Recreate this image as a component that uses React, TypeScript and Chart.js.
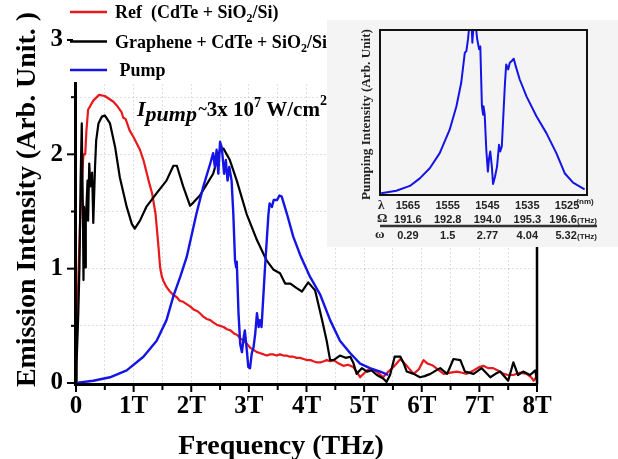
import React, { useEffect, useRef } from "react";
import { Chart, registerables } from "chart.js";

Chart.register(...registerables);

// ---------- data ----------
const refX = [0, 0.02, 0.04, 0.07, 0.1, 0.13, 0.16, 0.18, 0.21, 0.3, 0.4, 0.5, 0.65, 0.72, 0.79, 0.82, 0.86, 0.93, 1.0, 1.11, 1.17, 1.26, 1.32, 1.38, 1.43, 1.46, 1.49, 1.52, 1.57, 1.63, 1.69, 1.75, 1.8, 1.86, 1.92, 1.98, 2.05, 2.1, 2.15, 2.21, 2.27, 2.33, 2.38, 2.44, 2.5, 2.56, 2.62, 2.68, 2.75, 2.8, 2.85, 2.91, 2.97, 3.02, 3.08, 3.14, 3.2, 3.26, 3.31, 3.37, 3.42, 3.48, 3.54, 3.6, 3.65, 3.71, 3.77, 3.83, 3.89, 3.95, 4.01, 4.07, 4.12, 4.18, 4.24, 4.3, 4.35, 4.41, 4.47, 4.56, 4.64, 4.72, 4.81, 4.87, 4.93, 5.05, 5.13, 5.22, 5.33, 5.42, 5.51, 5.63, 5.74, 5.86, 5.95, 6.03, 6.1, 6.2, 6.3, 6.38, 6.5, 6.61, 6.7, 6.78, 6.9, 7.0, 7.07, 7.15, 7.24, 7.32, 7.42, 7.5, 7.59, 7.7, 7.82, 7.9, 7.94, 8.0];
const refY = [0, 0.5, 0.9, 1.4, 1.77, 2.0, 2.0, 2.2, 2.39, 2.47, 2.52, 2.51, 2.46, 2.42, 2.37, 2.32, 2.31, 2.21, 2.15, 2.04, 1.95, 1.77, 1.66, 1.48, 1.2, 1.01, 0.93, 0.89, 0.84, 0.8, 0.77, 0.75, 0.72, 0.71, 0.69, 0.67, 0.64, 0.63, 0.61, 0.58, 0.56, 0.55, 0.53, 0.51, 0.5, 0.49, 0.47, 0.46, 0.43, 0.42, 0.39, 0.37, 0.34, 0.31, 0.29, 0.27, 0.26, 0.25, 0.24, 0.25, 0.25, 0.24, 0.25, 0.24, 0.24, 0.23, 0.23, 0.22, 0.22, 0.21, 0.2, 0.2, 0.19, 0.18, 0.18, 0.19, 0.2, 0.19, 0.2, 0.17, 0.15, 0.16, 0.14, 0.1, 0.05, 0.11, 0.12, 0.1, 0.05, 0.1, 0.14, 0.21, 0.15, 0.08, 0.12, 0.2, 0.17, 0.15, 0.11, 0.08, 0.09, 0.1, 0.09, 0.08, 0.11, 0.14, 0.15, 0.13, 0.13, 0.11, 0.08, 0.07, 0.07, 0.09, 0.08, 0.05, 0.02, 0.06];

const grX = [0, 0.01, 0.04, 0.06, 0.08, 0.1, 0.12, 0.13, 0.14, 0.16, 0.17, 0.2, 0.21, 0.23, 0.25, 0.28, 0.3, 0.33, 0.35, 0.39, 0.45, 0.5, 0.59, 0.68, 0.76, 0.88, 0.97, 1.02, 1.11, 1.22, 1.4, 1.57, 1.69, 1.75, 1.86, 1.98, 2.04, 2.15, 2.27, 2.38, 2.5, 2.56, 2.67, 2.79, 2.96, 3.14, 3.31, 3.43, 3.54, 3.63, 3.72, 3.83, 3.92, 4.03, 4.15, 4.27, 4.35, 4.41, 4.47, 4.58, 4.68, 4.76, 4.81, 4.87, 4.96, 5.05, 5.13, 5.22, 5.33, 5.39, 5.45, 5.53, 5.63, 5.68, 5.74, 5.86, 5.97, 6.05, 6.15, 6.25, 6.32, 6.44, 6.55, 6.67, 6.75, 6.9, 7.04, 7.19, 7.28, 7.36, 7.5, 7.59, 7.67, 7.76, 7.88, 7.97, 8.0];
const grY = [0, 0.17, 0.61, 1.01, 1.77, 2.27, 1.48, 0.9, 1.54, 1.01, 1.4, 1.77, 1.42, 1.92, 1.72, 1.84, 1.4, 1.89, 2.12, 2.27, 2.33, 2.34, 2.27, 2.06, 1.8, 1.54, 1.39, 1.35, 1.42, 1.54, 1.66, 1.77, 1.9, 1.9, 1.72, 1.55, 1.58, 1.64, 1.74, 1.83, 2.04, 2.05, 1.95, 1.77, 1.48, 1.25, 1.07, 0.99, 0.96, 0.87, 0.87, 0.83, 0.8, 0.88, 0.81, 0.55, 0.37, 0.2, 0.2, 0.24, 0.22, 0.23, 0.18, 0.08, 0.13, 0.1, 0.11, 0.07, 0.04, 0.01, 0.07, 0.23, 0.23, 0.18, 0.1, 0.08, 0.05, 0.06, 0.08, 0.11, 0.13, 0.08, 0.21, 0.2, 0.1, 0.08, 0.13, 0.05, 0.08, 0.1, 0.02, 0.18, 0.07, 0.1, 0.07, 0.11, 0.02];

const pumpX = [0, 0.3, 0.59, 0.88, 1.17, 1.4, 1.57, 1.69, 1.81, 1.92, 2.09, 2.21, 2.33, 2.38, 2.41, 2.44, 2.47, 2.5, 2.53, 2.57, 2.6, 2.63, 2.66, 2.7, 2.73, 2.76, 2.78, 2.79, 2.82, 2.85, 2.88, 2.91, 2.93, 2.96, 2.99, 3.02, 3.05, 3.08, 3.11, 3.14, 3.17, 3.19, 3.22, 3.28, 3.34, 3.36, 3.4, 3.43, 3.49, 3.53, 3.57, 3.66, 3.77, 3.89, 4.06, 4.24, 4.41, 4.58, 4.76, 4.93, 5.1, 5.28, 5.42];
const pumpY = [0, 0.02, 0.05, 0.11, 0.23, 0.37, 0.55, 0.76, 0.93, 1.1, 1.48, 1.72, 1.92, 2.01, 1.89, 2.04, 1.83, 2.11, 2.06, 1.83, 1.95, 1.77, 1.89, 1.77, 1.48, 1.07, 1.01, 1.06, 0.61, 0.34, 0.27, 0.4, 0.46, 0.31, 0.14, 0.13, 0.26, 0.31, 0.43, 0.61, 0.49, 0.55, 0.49, 1.01, 1.48, 1.57, 1.54, 1.6, 1.6, 1.64, 1.63, 1.48, 1.28, 1.12, 0.93, 0.77, 0.55, 0.37, 0.26, 0.17, 0.13, 0.1, 0.07];

const xTickValues = [0, 1, 2, 3, 4, 5, 6, 7, 8];
const yTickValues = [0, 1, 2, 3];

// inset (pump spectrum vs wavelength)
const insetLam = [1571.7, 1567.9, 1564.5, 1562.0, 1559.5, 1557.0, 1554.5, 1552.8, 1551.6, 1550.7, 1550.3, 1549.9, 1549.5, 1549.0, 1548.8, 1548.5, 1548.0, 1547.6, 1547.1, 1546.8, 1546.4, 1546.1, 1546.0, 1545.7, 1545.3, 1544.9, 1544.6, 1544.3, 1543.9, 1543.6, 1543.1, 1542.6, 1542.1, 1541.8, 1541.4, 1540.9, 1540.6, 1540.3, 1539.8, 1539.4, 1538.9, 1538.4, 1537.9, 1536.9, 1535.2, 1532.7, 1530.2, 1527.7, 1525.6, 1523.5, 1520.6];
const insetVal = [0.01, 0.026, 0.055, 0.101, 0.162, 0.254, 0.396, 0.538, 0.68, 0.862, 0.872, 0.943, 1.04, 1.04, 0.923, 1.03, 1.04, 0.947, 0.883, 0.9, 0.538, 0.487, 0.538, 0.487, 0.274, 0.142, 0.223, 0.264, 0.172, 0.067, 0.112, 0.172, 0.304, 0.264, 0.294, 0.538, 0.68, 0.791, 0.761, 0.801, 0.812, 0.826, 0.781, 0.7, 0.598, 0.477, 0.375, 0.254, 0.132, 0.075, 0.034];
const lambdaLabels = ["1565", "1555", "1545", "1535", "1525"];
const lambdaValues = [1565, 1555, 1545, 1535, 1525];
const omegaBig = ["191.6", "192.8", "194.0", "195.3", "196.6"];
const omegaSmall = ["0.29", "1.5", "2.77", "4.04", "5.32"];

const SERIF = '"Liberation Serif", "Times New Roman", serif';
const SANS = '"Liberation Sans", Arial, sans-serif';

const RED = "#e8181c";
const BLACK = "#000000";
const BLUE = "#1414e6";

const INSET_LEFT = 327;
const INSET_TOP = 20;

type Seg = [string, string, number];
function drawRich(ctx: CanvasRenderingContext2D, x: number, y: number, segs: Seg[]) {
  let cx = x;
  ctx.textAlign = "left";
  ctx.textBaseline = "alphabetic";
  for (const [t, f, dy] of segs) {
    ctx.font = f;
    ctx.fillText(t, cx, y + dy);
    cx += ctx.measureText(t).width;
  }
}

const legendItems: [string, number, number, Seg[]][] = [
  [RED, 12, 18, [["Ref  (CdTe + SiO", `bold 18px ${SERIF}`, 0], ["2", `bold 12px ${SERIF}`, 4], ["/Si)", `bold 18px ${SERIF}`, 0]]],
  [BLACK, 41.5, 47.5, [["Graphene + CdTe + SiO", `bold 18px ${SERIF}`, 0], ["2", `bold 12px ${SERIF}`, 4], ["/Si", `bold 18px ${SERIF}`, 0]]],
  [BLUE, 70, 75.5, [[" Pump", `bold 18px ${SERIF}`, 0]]],
];

function drawLegendText(ctx: CanvasRenderingContext2D) {
  ctx.fillStyle = "#000";
  for (const [, , ty, segs] of legendItems) drawRich(ctx, 115, ty, segs);
}

function toPts(xs: number[], ys: number[]) {
  return xs.map((x, i) => ({ x, y: ys[i] }));
}

const mainPlugin = {
  id: "mainDecor",
  afterDraw(chart: any) {
    const ctx: CanvasRenderingContext2D = chart.ctx;
    const ca = chart.chartArea;
    const xs = chart.scales.x;
    const ys = chart.scales.y;
    ctx.save();
    ctx.strokeStyle = "#000";
    ctx.fillStyle = "#000";
    // axes lines
    ctx.lineWidth = 3;
    ctx.beginPath();
    ctx.moveTo(ca.left - 0.5, ca.top);
    ctx.lineTo(ca.left - 0.5, ca.bottom + 1.5);
    ctx.lineTo(ca.right + 1, ca.bottom + 1.5);
    ctx.stroke();
    ctx.lineWidth = 2.5;
    ctx.beginPath();
    ctx.moveTo(ca.right, ca.bottom + 1.5);
    ctx.lineTo(ca.right, ca.top);
    ctx.stroke();
    // tick marks
    ctx.lineWidth = 2;
    for (let v = 0; v <= 8.001; v += 0.5) {
      const px = xs.getPixelForValue(v);
      const major = Math.abs(v - Math.round(v)) < 1e-6;
      ctx.beginPath();
      ctx.moveTo(px, ca.bottom + 2);
      ctx.lineTo(px, ca.bottom + (major ? 9 : 7));
      ctx.stroke();
    }
    for (let v = 0; v <= 3.001; v += 0.5) {
      const py = ys.getPixelForValue(v);
      const major = Math.abs(v - Math.round(v)) < 1e-6;
      ctx.beginPath();
      ctx.moveTo(ca.left - 1, py);
      ctx.lineTo(ca.left - (major ? 9 : 5), py);
      ctx.stroke();
    }
    // legend cover
    ctx.fillStyle = "#fff";
    ctx.fillRect(73, 0, 259, 82);
    // legend lines + text
    for (const [col, ly] of legendItems) {
      ctx.strokeStyle = col;
      ctx.lineWidth = 2.5;
      ctx.beginPath();
      ctx.moveTo(70, ly);
      ctx.lineTo(107, ly);
      ctx.stroke();
    }
    drawLegendText(ctx);
    // annotation
    ctx.fillStyle = "#000";
    drawRich(ctx, 137, 116, [
      ["I", `italic bold 22px ${SERIF}`, 0],
      ["pump", `italic bold 22px ${SERIF}`, 5],
      [" ", `bold 6px ${SERIF}`, 0],
      ["~", `bold 16px ${SERIF}`, -2],
      ["3x 10", `bold 21px ${SERIF}`, 0],
      ["7", `bold 14px ${SERIF}`, -9],
      [" W/cm", `bold 21px ${SERIF}`, 0],
      ["2", `bold 14px ${SERIF}`, -11],
    ]);
    // x title
    ctx.font = `bold 28px ${SERIF}`;
    ctx.textAlign = "center";
    ctx.textBaseline = "alphabetic";
    ctx.fillText("Frequency (THz)", 281, 454);
    // y title
    const yt = "Emission Intensity (Arb. Unit. )";
    ctx.font = `bold 28px ${SERIF}`;
    const w = ctx.measureText(yt).width;
    ctx.translate(35, 199.5);
    ctx.rotate(-Math.PI / 2);
    ctx.scale(375 / w, 1);
    ctx.fillText(yt, 0, 0);
    ctx.restore();
  },
};

const insetPlugin = {
  id: "insetDecor",
  beforeDraw(chart: any) {
    const ctx: CanvasRenderingContext2D = chart.ctx;
    ctx.save();
    ctx.fillStyle = "#f4f4f4";
    ctx.fillRect(0, 0, chart.width, chart.height);
    ctx.restore();
  },
  afterDraw(chart: any) {
    const ctx: CanvasRenderingContext2D = chart.ctx;
    const ca = chart.chartArea;
    const xs = chart.scales.x;
    ctx.save();
    ctx.strokeStyle = "#111";
    ctx.lineWidth = 2;
    ctx.strokeRect(ca.left, ca.top, ca.right - ca.left, ca.bottom - ca.top);
    // y label
    const lbl = "Pumping Intensity (Arb. Unit)";
    ctx.fillStyle = "#222";
    ctx.font = `bold 12px ${SERIF}`;
    const w = ctx.measureText(lbl).width;
    ctx.save();
    ctx.translate(43, 94.5);
    ctx.rotate(-Math.PI / 2);
    ctx.scale(171 / w, 1);
    ctx.textAlign = "center";
    ctx.textBaseline = "alphabetic";
    ctx.fillText(lbl, 0, 0);
    ctx.restore();
    // rows
    ctx.textBaseline = "alphabetic";
    ctx.textAlign = "left";
    ctx.fillStyle = "#222";
    ctx.font = `bold 13px ${SERIF}`;
    ctx.fillText("λ", 51, 189);
    ctx.fillText("Ω", 50, 202);
    ctx.fillText("ω", 48, 218);
    ctx.textAlign = "center";
    ctx.font = `bold 11px ${SANS}`;
    lambdaValues.forEach((v, i) => {
      const px = xs.getPixelForValue(v);
      ctx.fillText(lambdaLabels[i], px, 189);
      ctx.fillText(omegaBig[i], i === 4 ? px - 4 : px, 203);
      ctx.fillText(omegaSmall[i], i === 4 ? px - 1 : px, 219);
    });
    ctx.font = `bold 8px ${SANS}`;
    ctx.fillText("(nm)", 258, 184);
    ctx.fillText("(THz)", 260, 203);
    ctx.fillText("(THz)", 260, 219);
    ctx.strokeStyle = "#333";
    ctx.lineWidth = 2.5;
    ctx.beginPath();
    ctx.moveTo(53, 206);
    ctx.lineTo(270, 206);
    ctx.stroke();
    // legend text that overlaps the inset stays on top
    ctx.translate(-INSET_LEFT, -INSET_TOP);
    drawLegendText(ctx);
    ctx.restore();
  },
};

export default function App() {
  const mainRef = useRef<HTMLCanvasElement>(null);
  const insetRef = useRef<HTMLCanvasElement>(null);

  useEffect(() => {
    const tickFont = { family: SERIF, weight: "bold" as const, size: 25 };
    const main = new Chart(mainRef.current!, {
      type: "line",
      data: {
        datasets: [
          { label: "Pump", data: toPts(pumpX, pumpY), borderColor: BLUE, borderWidth: 2.4, pointRadius: 0, order: 0 },
          { label: "Graphene + CdTe + SiO2/Si", data: toPts(grX, grY), borderColor: BLACK, borderWidth: 2.2, pointRadius: 0, order: 1 },
          { label: "Ref (CdTe + SiO2/Si)", data: toPts(refX, refY), borderColor: RED, borderWidth: 2.2, pointRadius: 0, order: 2 },
        ],
      },
      options: {
        animation: false,
        responsive: false,
        devicePixelRatio: 1,
        layout: { padding: { top: 40, right: 81, left: 0, bottom: 0 } },
        plugins: { legend: { display: false }, tooltip: { enabled: false } },
        elements: { line: { tension: 0, borderJoinStyle: "round" } },
        scales: {
          x: {
            type: "linear",
            min: 0,
            max: 8,
            afterFit: (s: any) => { s.height = 76; },
            afterBuildTicks: (s: any) => {
              const t: any[] = [];
              for (let v = 0; v <= 8.001; v += 0.5) t.push({ value: v });
              s.ticks = t;
            },
            ticks: {
              autoSkip: false,
              maxRotation: 0,
              padding: 1,
              color: "#000",
              font: tickFont,
              callback: (v: any) => {
                const n = Number(v);
                if (!xTickValues.some((t) => Math.abs(t - n) < 1e-6)) return "";
                return n === 0 ? "0" : `${Math.round(n)}T`;
              },
            },
            grid: { color: "rgba(0,0,0,0.12)", lineWidth: 1, tickLength: 8, tickColor: "rgba(0,0,0,0)" },
            border: { display: false, dash: [2, 2] },
          },
          y: {
            type: "linear",
            min: 0,
            max: 3,
            afterFit: (s: any) => { s.width = 76; },
            afterBuildTicks: (s: any) => {
              const t: any[] = [];
              for (let v = 0; v <= 3.001; v += 0.5) t.push({ value: v });
              s.ticks = t;
            },
            ticks: {
              autoSkip: false,
              padding: 5,
              color: "#000",
              font: tickFont,
              callback: (v: any) => {
                const n = Number(v);
                if (!yTickValues.some((t) => Math.abs(t - n) < 1e-6)) return "";
                return String(Math.round(n));
              },
            },
            grid: { color: "rgba(0,0,0,0.12)", lineWidth: 1, tickLength: 8, tickColor: "rgba(0,0,0,0)" },
            border: { display: false, dash: [2, 2] },
          },
        },
      },
      plugins: [mainPlugin],
    } as any);

    const inset = new Chart(insetRef.current!, {
      type: "line",
      data: {
        datasets: [
          { label: "Pump spectrum", data: toPts(insetLam, insetVal), borderColor: BLUE, borderWidth: 2, pointRadius: 0 },
        ],
      },
      options: {
        animation: false,
        responsive: false,
        devicePixelRatio: 1,
        layout: { padding: { top: 10, right: 31, left: 53, bottom: 52 } },
        plugins: { legend: { display: false }, tooltip: { enabled: false } },
        elements: { line: { tension: 0, borderJoinStyle: "round" } },
        scales: {
          x: { type: "linear", min: 1520, max: 1572, reverse: true, display: false },
          y: { type: "linear", min: 0, max: 1, display: false },
        },
      },
      plugins: [insetPlugin],
    } as any);

    return () => {
      main.destroy();
      inset.destroy();
    };
  }, []);

  return (
    <div style={{ position: "fixed", left: 0, top: 0, width: 618, height: 459, background: "#fff" }}>
      <canvas ref={mainRef} width={618} height={459} style={{ position: "absolute", left: 0, top: 0, width: 618, height: 459 }} />
      <canvas ref={insetRef} width={291} height={227} style={{ position: "absolute", left: INSET_LEFT, top: INSET_TOP, width: 291, height: 227 }} />
    </div>
  );
}
